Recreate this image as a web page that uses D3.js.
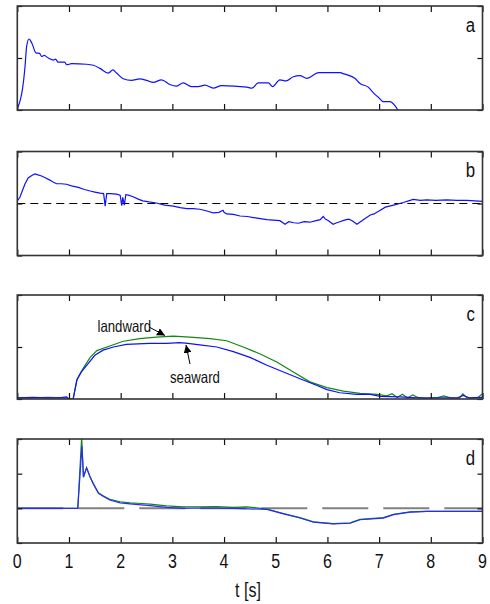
<!DOCTYPE html>
<html>
<head>
<meta charset="utf-8">
<script src="https://cdn.jsdelivr.net/npm/d3@7"></script>
<style>
  body { margin: 0; background: #fff; }
  text { font-family: "Liberation Sans", Arial, sans-serif; fill: #111; }
</style>
</head>
<body>
<svg id="chart" width="490" height="604"></svg>
<script>
// valores (t en segundos)

// panel a
const tA = [0, 0.06, 0.1, 0.15, 0.18, 0.226, 0.28, 0.36, 0.43, 0.47, 0.52, 0.6, 0.7, 0.74, 0.79, 0.92, 0.955, 1.05, 1.34, 1.47, 1.6, 1.76, 1.85, 1.92, 2.05, 2.21, 2.37, 2.5, 2.63, 2.79, 2.95, 3.08, 3.21, 3.37, 3.5, 3.63, 3.79, 3.95, 4.44, 4.54, 4.66, 4.86, 4.94, 5.08, 5.2, 5.34, 5.47, 5.6, 5.83, 6.25, 6.3, 6.37, 6.53, 6.63, 6.79, 6.89, 6.99, 7.08, 7.21, 7.37];
const vA = [0.03, 0.2, 0.4, 0.84, 1.22, 1.365, 1.29, 1.1, 1.09, 1.03, 1.05, 1.0, 0.96, 0.98, 0.92, 0.92, 0.87, 0.89, 0.88, 0.86, 0.8, 0.71, 0.77, 0.71, 0.6, 0.57, 0.6, 0.57, 0.53, 0.58, 0.49, 0.46, 0.52, 0.45, 0.45, 0.48, 0.42, 0.47, 0.44, 0.42, 0.52, 0.52, 0.45, 0.58, 0.56, 0.64, 0.66, 0.61, 0.72, 0.72, 0.7, 0.68, 0.61, 0.51, 0.44, 0.33, 0.24, 0.16, 0.16, -0.01];

// panel b
const tB = [0, 0.05, 0.1, 0.15, 0.21, 0.28, 0.34, 0.4, 0.47, 0.55, 0.63, 0.7, 0.76, 0.85, 0.95, 1.05, 1.18, 1.3, 1.41, 1.5, 1.6, 1.67, 1.7, 1.73, 1.8, 1.92, 1.99, 2.02, 2.04, 2.07, 2.1, 2.15, 2.24, 2.35, 2.43, 2.55, 2.69, 2.85, 3.02, 3.15, 3.28, 3.4, 3.53, 3.65, 3.79, 3.9, 3.98, 4.0, 4.05, 4.18, 4.31, 4.45, 4.57, 4.7, 4.83, 4.95, 5.08, 5.18, 5.25, 5.35, 5.44, 5.55, 5.66, 5.78, 5.86, 5.92, 5.96, 6.02, 6.11, 6.18, 6.24, 6.33, 6.41, 6.48, 6.57, 6.64, 6.7, 6.83, 6.9, 6.99, 7.12, 7.28, 7.47, 7.6, 7.66, 7.8, 7.92, 8.1, 8.31, 8.5, 8.7, 8.85, 9];
const vB = [0.05, 0.12, 0.25, 0.38, 0.49, 0.54, 0.57, 0.55, 0.53, 0.49, 0.45, 0.41, 0.38, 0.38, 0.37, 0.34, 0.31, 0.27, 0.24, 0.22, 0.2, 0.19, -0.05, 0.19, 0.19, 0.18, 0.16, -0.04, 0.12, -0.03, 0.17, 0.16, 0.13, 0.08, 0.05, 0.03, 0.01, -0.03, -0.05, -0.08, -0.1, -0.1, -0.11, -0.14, -0.18, -0.17, -0.13, -0.17, -0.2, -0.21, -0.24, -0.25, -0.27, -0.29, -0.31, -0.32, -0.33, -0.4, -0.35, -0.37, -0.38, -0.35, -0.36, -0.33, -0.31, -0.25, -0.3, -0.33, -0.4, -0.37, -0.35, -0.32, -0.3, -0.33, -0.4, -0.35, -0.31, -0.22, -0.2, -0.15, -0.07, -0.03, 0.02, 0.06, 0.08, 0.06, 0.07, 0.06, 0.07, 0.06, 0.06, 0.05, 0.04];

// panel c
const tCsea = [0, 0.3, 0.6, 0.8, 0.95, 1.0, 1.08, 1.15, 1.24, 1.37, 1.5, 1.66, 1.86, 2.11, 2.56, 2.89, 3.14, 3.3, 3.53, 3.86, 4.18, 4.5, 4.83, 5.15, 5.47, 5.8, 5.99, 6.24, 6.57, 6.83, 7.02, 7.41, 7.73, 8.1, 8.5, 8.63, 8.75, 9];
const vCsea = [0.02, 0.03, 0.02, 0.02, 0.04, 0.0, 0.0, 0.36, 0.52, 0.68, 0.84, 0.94, 1.0, 1.05, 1.07, 1.07, 1.085, 1.07, 1.04, 1.0, 0.91, 0.8, 0.65, 0.52, 0.39, 0.26, 0.18, 0.12, 0.09, 0.09, 0.05, 0.04, 0.02, 0.02, 0.02, 0.07, 0.02, 0.03];
const tCland = [0, 0.3, 0.6, 0.9, 1.08, 1.16, 1.28, 1.41, 1.54, 1.79, 2.05, 2.37, 2.69, 3.02, 3.34, 3.73, 4.05, 4.37, 4.69, 5.02, 5.34, 5.66, 5.99, 6.31, 6.63, 6.96, 7.15, 7.25, 7.35, 7.45, 7.55, 7.65, 7.75, 7.9, 8.1, 8.25, 8.4, 8.55, 8.62, 8.7, 8.9, 9];
const vCland = [0.02, 0.02, 0.03, 0.02, 0.0, 0.39, 0.6, 0.8, 0.93, 1.02, 1.11, 1.16, 1.19, 1.21, 1.19, 1.16, 1.12, 1.0, 0.87, 0.71, 0.52, 0.33, 0.22, 0.15, 0.11, 0.09, 0.06, 0.1, 0.03, 0.09, 0.02, 0.08, 0.03, 0.01, 0.02, 0.06, 0.02, 0.01, 0.1, 0.02, 0.02, 0.1];

// panel d
const tDsea = [0, 1.17, 1.25, 1.28, 1.34, 1.41, 1.47, 1.57, 1.66, 1.79, 1.99, 2.18, 2.57, 2.89, 3.21, 3.53, 4.18, 4.83, 5.15, 5.47, 5.73, 6.11, 6.44, 6.63, 7.08, 7.28, 7.6, 7.92, 9];
const vDsea = [0, 0, 1.8, 0.9, 1.17, 0.9, 0.7, 0.43, 0.35, 0.24, 0.16, 0.13, 0.08, 0.03, 0.0, 0.01, 0.0, -0.03, -0.16, -0.28, -0.4, -0.45, -0.43, -0.33, -0.28, -0.18, -0.11, -0.09, -0.09];
const tDland = [0, 1.17, 1.245, 1.28, 1.34, 1.41, 1.47, 1.57, 1.66, 1.79, 1.99, 2.18, 2.4, 2.57, 2.89, 3.21, 3.53, 3.85, 4.18, 4.45, 4.83, 5.15, 5.47, 5.73, 6.11, 6.44, 6.63, 7.08, 7.28, 7.6, 7.92, 9];
const vDland = [0, 0, 2.05, 0.9, 1.17, 0.9, 0.72, 0.45, 0.36, 0.26, 0.19, 0.16, 0.14, 0.12, 0.07, 0.04, 0.04, 0.05, 0.03, 0.04, -0.02, -0.15, -0.27, -0.39, -0.44, -0.42, -0.32, -0.27, -0.17, -0.1, -0.09, -0.09];

const xTicks = [0, 1, 2, 3, 4, 5, 6, 7, 8, 9];
const panelLetters = ["a", "b", "c", "d"];

const svg = d3.select("#chart");
const left = 17.3, right = 482.5, ph = 104;
const tops = [6, 151.5, 295, 439];
const narrow = 0.8; // la fuente original es angosta

const x = d3.scaleLinear().domain([0, 9]).range([left, right]);

const panels = [
  { dom: [0, 2], yt: [0, 1, 2], series: [{ t: tA, v: vA, c: "#1010ff" }], zero: null, curve: d3.curveMonotoneX },
  { dom: [-1, 1], yt: [-1, 0, 1], series: [{ t: tB, v: vB, c: "#1010ff" }], zero: "b", curve: d3.curveLinear },
  { dom: [0, 2], yt: [0, 1, 2], series: [{ t: tCland, v: vCland, c: "#118811" }, { t: tCsea, v: vCsea, c: "#1010ff" }], zero: null, curve: d3.curveLinear },
  { dom: [-1, 2], yt: [-1, 0, 1, 2], series: [{ t: tDland, v: vDland, c: "#118811" }, { t: tDsea, v: vDsea, c: "#2a2aff" }], zero: "d", curve: d3.curveLinear }
];

function label(g, px, py, txt, size, anchor) {
  g.append("text")
    .attr("transform", `translate(${px},${py}) scale(${narrow},1)`)
    .attr("text-anchor", anchor || "start")
    .style("font-size", size + "px")
    .text(txt);
}

svg.append("defs").append("marker")
  .attr("id", "arr").attr("viewBox", "0 0 10 10")
  .attr("refX", 10).attr("refY", 5)
  .attr("markerWidth", 8).attr("markerHeight", 8)
  .attr("markerUnits", "userSpaceOnUse")
  .attr("orient", "auto")
  .append("path").attr("d", "M0,0L10,5L0,10z").attr("fill", "#000");

panels.forEach((p, i) => {
  const top = tops[i];
  const y = d3.scaleLinear().domain(p.dom).range([top + ph, top]);
  const g = svg.append("g");

  g.append("clipPath").attr("id", "clip" + i)
    .append("rect").attr("x", left).attr("y", top).attr("width", right - left).attr("height", ph);

  // linea de cero
  if (p.zero === "b") {
    g.append("line").attr("x1", left).attr("x2", right).attr("y1", y(0)).attr("y2", y(0))
      .attr("stroke", "#000").attr("stroke-width", 1).attr("stroke-dasharray", "8,5");
  }
  if (p.zero === "d") {
    g.append("line").attr("x1", left).attr("x2", right).attr("y1", y(0)).attr("y2", y(0))
      .attr("stroke", "#808080").attr("stroke-width", 2).attr("stroke-dasharray", "46,15");
  }

  p.series.forEach(s => {
    const pts = s.t.map((t, k) => [t, s.v[k]]);
    g.append("path")
      .attr("clip-path", `url(#clip${i})`)
      .attr("d", d3.line().x(d => x(d[0])).y(d => y(d[1])).curve(p.curve)(pts))
      .attr("fill", "none").attr("stroke", s.c).attr("stroke-width", 1.2);
  });

  // ejes con ticks hacia adentro
  g.append("g").attr("transform", `translate(0,${top + ph})`)
    .call(d3.axisBottom(x).tickValues(xTicks).tickSize(-6).tickFormat(""))
    .call(a => a.select(".domain").remove());
  g.append("g").attr("transform", `translate(0,${top})`)
    .call(d3.axisTop(x).tickValues(xTicks).tickSize(-6).tickFormat(""))
    .call(a => a.select(".domain").remove());
  g.append("g").attr("transform", `translate(${left},0)`)
    .call(d3.axisLeft(y).tickValues(p.yt).tickSize(-5).tickFormat(""))
    .call(a => a.select(".domain").remove());
  g.append("g").attr("transform", `translate(${right},0)`)
    .call(d3.axisRight(y).tickValues(p.yt).tickSize(-5).tickFormat(""))
    .call(a => a.select(".domain").remove());
  g.selectAll(".tick line").attr("stroke", "#111").attr("stroke-width", 1.2);

  g.append("rect").attr("x", left).attr("y", top).attr("width", right - left).attr("height", ph)
    .attr("fill", "none").attr("stroke", "#333").attr("stroke-width", 1.6);

  label(g, 475, top + 25.5, panelLetters[i], 21, "end");

  if (i === 2) {
    label(g, 97.5, 331.5, "landward", 16.5);
    g.append("line").attr("x1", 149).attr("y1", 327).attr("x2", 165).attr("y2", 335.5)
      .attr("stroke", "#000").attr("marker-end", "url(#arr)");
    label(g, 170, 382.5, "seaward", 16.5);
    g.append("line").attr("x1", 190).attr("y1", 364).attr("x2", 186).attr("y2", 345)
      .attr("stroke", "#000").attr("marker-end", "url(#arr)");
  }

  if (i === 3) {
    xTicks.forEach(d => label(g, x(d), 568, d, 20, "middle"));
    label(g, 248, 597, "t [s]", 20, "middle");
  }
});
</script>
</body>
</html>
